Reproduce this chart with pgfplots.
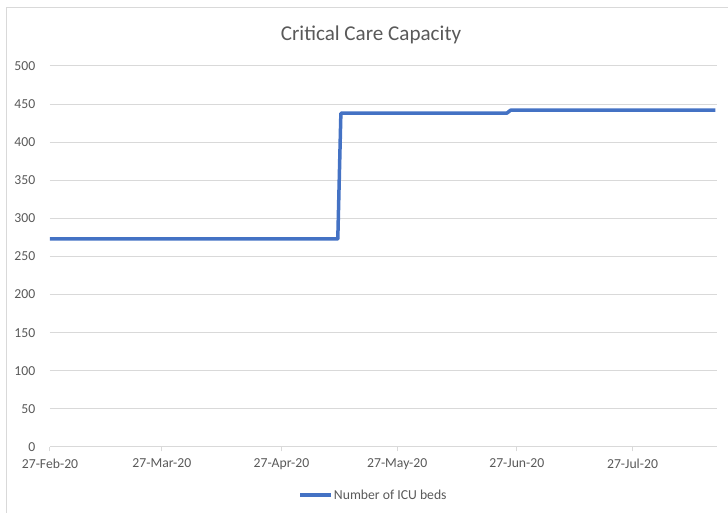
\documentclass[border=0pt]{standalone}
\usepackage{fontspec}
\setmainfont{Carlito}
\usepackage{pgfplots}
\pgfplotsset{compat=1.18}
\definecolor{txt}{HTML}{595959}
\definecolor{gridc}{HTML}{D9D9D9}
\definecolor{linec}{HTML}{4472C4}
\begin{document}
\begin{tikzpicture}[x=1bp,y=1bp]
\useasboundingbox (-50,-66) rectangle (678,447);
\draw[gridc, line width=1bp] (-43,-70) -- (-43,439) -- (682,439);
\node[text=txt, font=\fontsize{21.1bp}{25bp}\selectfont] at (321,412) {Critical Care Capacity};
\begin{axis}[
  at={(0,0)}, anchor=south west,
  scale only axis, width=667bp, height=381bp,
  xmin=0, xmax=172.9, ymin=0, ymax=500,
  clip=false,
  separate axis lines,
  axis x line*=bottom, axis y line*=left,
  y axis line style={draw=none},
  x axis line style={gridc, line width=1bp},
  ytick={0,50,...,500},
  xtick={0,29,60,90,121,151},
  xticklabels={27-Feb-20,27-Mar-20,27-Apr-20,27-May-20,27-Jun-20,27-Jul-20},
  ymajorgrids,
  grid style={gridc, line width=1bp},
  ytick style={draw=none},
  xtick style={gridc, line width=1bp},
  tick align=outside,
  major tick length=4.5bp,
  /pgf/number format/assume math mode=true,
  ticklabel style={text=txt, font=\fontsize{13.7bp}{16bp}\selectfont},
  yticklabel style={anchor=east, inner xsep=0pt, xshift=-10bp},
  xticklabel style={yshift=-4bp},
  legend style={at={(0.4843,-0.126)}, anchor=center, draw=none, fill=none,
    font=\fontsize{13.7bp}{16bp}\selectfont, text=txt,
    nodes={inner xsep=1bp}},
  legend image code/.code={\draw[linec, line width=3.5bp] (0,0) -- (31bp,0);},
]
\addplot[linec, line width=3.5bp, line join=round] coordinates {
(0,273) (74.6,273) (75.4,438) (118.4,438) (119.4,442) (172.5,442)
};
\addlegendentry{Number of ICU beds}
\end{axis}
\end{tikzpicture}
\end{document}
